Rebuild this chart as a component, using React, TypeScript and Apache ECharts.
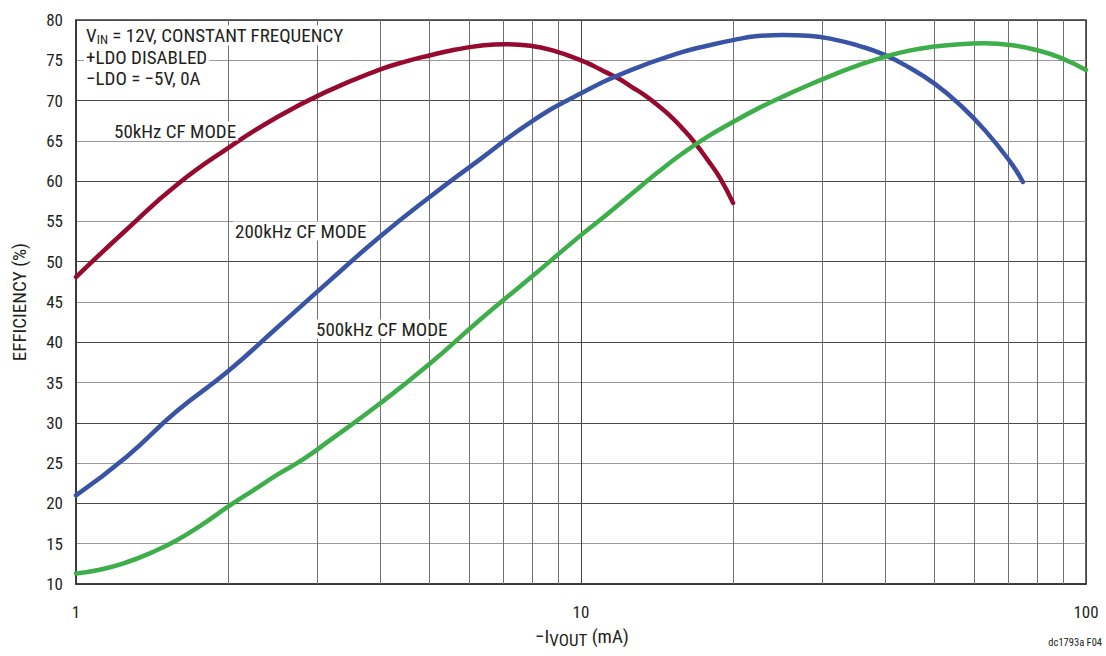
import React, { useEffect, useRef } from "react";
import * as echarts from "echarts";

const xTickLabels = ["1", "10", "100"];
const yTicks = [10, 15, 20, 25, 30, 35, 40, 45, 50, 55, 60, 65, 70, 75, 80];
const minorX = [2, 3, 4, 5, 6, 7, 8, 9, 20, 30, 40, 50, 60, 70, 80, 90];

const red50k: [number, number][] = [
  [1, 48.1], [1.26, 54.0], [1.58, 59.5], [2, 64.1], [2.51, 68.0], [3.16, 71.2],
  [3.98, 73.8], [4.47, 74.8], [5.01, 75.6], [5.62, 76.3], [6.31, 76.8], [7.08, 77.0],
  [7.94, 76.8], [8.91, 76.1], [10, 75.0], [10.59, 74.3], [11.22, 73.5], [11.89, 72.7],
  [12.59, 71.7], [13.34, 70.7], [14.13, 69.5], [14.96, 68.2], [15.85, 66.6],
  [16.79, 64.8], [17.78, 62.7], [18.84, 60.4], [20, 57.3],
];
const blue200k: [number, number][] = [
  [1, 21.0], [1.26, 25.8], [1.58, 31.4], [2, 36.4], [2.51, 41.9], [3.16, 47.5],
  [3.98, 53.0], [5.01, 58.0], [6.31, 62.7], [7.94, 67.3], [10, 70.9], [12.59, 73.8],
  [15.85, 76.0], [17.78, 76.8], [20, 77.5], [22.39, 78.0], [25.12, 78.15], [28.18, 78.05],
  [31.62, 77.6], [35.48, 76.8], [39.81, 75.7], [44.67, 74.1], [50.12, 72.1],
  [56.23, 69.5], [63.1, 66.3], [70.79, 62.4], [75, 59.9],
];
const green500k: [number, number][] = [
  [1, 11.3], [1.12, 11.8], [1.26, 12.7], [1.41, 13.9], [1.58, 15.4], [1.78, 17.4],
  [2, 19.6], [2.24, 21.6], [2.51, 23.6], [2.82, 25.5], [3.16, 27.7], [3.98, 32.3],
  [5.01, 37.3], [6.31, 42.8], [7.94, 48.0], [10, 53.3], [11.22, 55.8], [12.59, 58.4],
  [14.13, 61.0], [15.85, 63.4], [17.78, 65.5], [19.95, 67.3], [22.39, 69.0],
  [25.12, 70.5], [28.18, 71.9], [31.62, 73.2], [35.48, 74.4], [39.81, 75.4],
  [44.67, 76.2], [50.12, 76.7], [56.23, 77.0], [63.1, 77.1], [70.79, 76.9],
  [79.43, 76.3], [89.13, 75.3], [100, 73.8],
];

const FONT = '"Liberation Sans Narrow", "Roboto Condensed", "Arial Narrow", "Liberation Sans", sans-serif';
const TXT = "#231f20";

export default function App() {
  const ref = useRef<HTMLDivElement>(null);
  useEffect(() => {
    document.body.style.margin = "0";
    const chart = echarts.init(ref.current!, undefined, { renderer: "svg" });
    const lineSeries = (data: [number, number][], color: string) => ({
      type: "line",
      data,
      smooth: 0.5,
      showSymbol: false,
      lineStyle: { color, width: 4.5, cap: "round", join: "round" },
      z: 5,
    });
    const label = (text: string, left: number, top: number) => ({
      type: "text",
      left,
      top,
      z: 10,
      style: {
        text,
        fontSize: 19,
        lineHeight: 19,
        fontFamily: FONT,
        fill: TXT,
        backgroundColor: "#fff",
        padding: [0, 2],
      },
    });
    chart.setOption({
      animation: false,
      backgroundColor: "#ffffff",
      textStyle: { fontFamily: FONT },
      grid: { left: 76, right: 20, top: 20, bottom: 72, show: true, borderColor: "#333", borderWidth: 1.5 },
      xAxis: {
        type: "log",
        logBase: 10,
        min: 1,
        max: 100,
        axisLine: { show: true, lineStyle: { color: "#333", width: 1.5 } },
        axisTick: { show: false },
        axisLabel: {
          color: TXT,
          fontSize: 17,
          margin: 19,
          fontFamily: FONT,
          formatter: (v: number) => (xTickLabels.includes(String(v)) ? String(v) : ""),
        },
        splitLine: { show: true, lineStyle: { color: "#444", width: 1 } },
      },
      yAxis: {
        type: "value",
        min: yTicks[0],
        max: yTicks[yTicks.length - 1],
        interval: 5,
        name: "EFFICIENCY (%)",
        nameLocation: "middle",
        nameGap: 47,
        nameTextStyle: { color: TXT, fontSize: 19, fontFamily: FONT },
        axisLine: { show: true, lineStyle: { color: "#333", width: 1.5 } },
        axisTick: { show: false },
        axisLabel: { color: TXT, fontSize: 17, margin: 13, fontFamily: FONT },
        splitLine: { show: true, lineStyle: { color: ["#4a4a4a", "#9a9a9a"], width: 1.2 } },
      },
      series: [
        {
          type: "line",
          data: [],
          markLine: {
            silent: true,
            symbol: "none",
            label: { show: false },
            lineStyle: { color: "#707070", width: 1, type: "solid" },
            data: minorX.map((x) => ({ xAxis: x })),
          },
          z: 1,
        },
        lineSeries(red50k, "#950a2e"),
        lineSeries(blue200k, "#3a54a5"),
        lineSeries(green500k, "#3dae49"),
      ],
      graphic: [
        {
          type: "text",
          left: 84,
          top: 25.5,
          z: 10,
          style: {
            text: "{a|V}{s|IN}{a| = 12V, CONSTANT FREQUENCY}",
            fill: TXT,
            backgroundColor: "#fff",
            padding: [0, 2],
            rich: {
              a: { fontSize: 19, fontFamily: FONT, lineHeight: 20, fill: TXT },
              s: { fontSize: 13, fontFamily: FONT, lineHeight: 12, fill: TXT, verticalAlign: "bottom" },
            },
          },
        },
        label("+LDO DISABLED", 84, 48),
        label("−LDO = −5V, 0A", 84, 69),
        label("50kHz CF MODE", 112, 121.5),
        label("200kHz CF MODE", 233, 221.5),
        label("500kHz CF MODE", 314, 319.5),
        {
          type: "text",
          left: 535,
          top: 627,
          z: 10,
          style: {
            text: "{a|−I}{s|VOUT}{a| (mA)}",
            fill: TXT,
            rich: {
              a: { fontSize: 19, fontFamily: FONT, lineHeight: 24, fill: TXT },
              s: { fontSize: 17, fontFamily: FONT, lineHeight: 14, fill: TXT, verticalAlign: "bottom" },
            },
          },
        },
        {
          type: "text",
          right: 4,
          top: 637,
          z: 10,
          style: { text: "dc1793a F04", fontSize: 10.5, fontFamily: FONT, fill: TXT },
        },
      ],
    });
    return () => chart.dispose();
  }, []);
  return <div ref={ref} style={{ position: "fixed", left: 0, top: 0, width: 1106, height: 656 }} />;
}
